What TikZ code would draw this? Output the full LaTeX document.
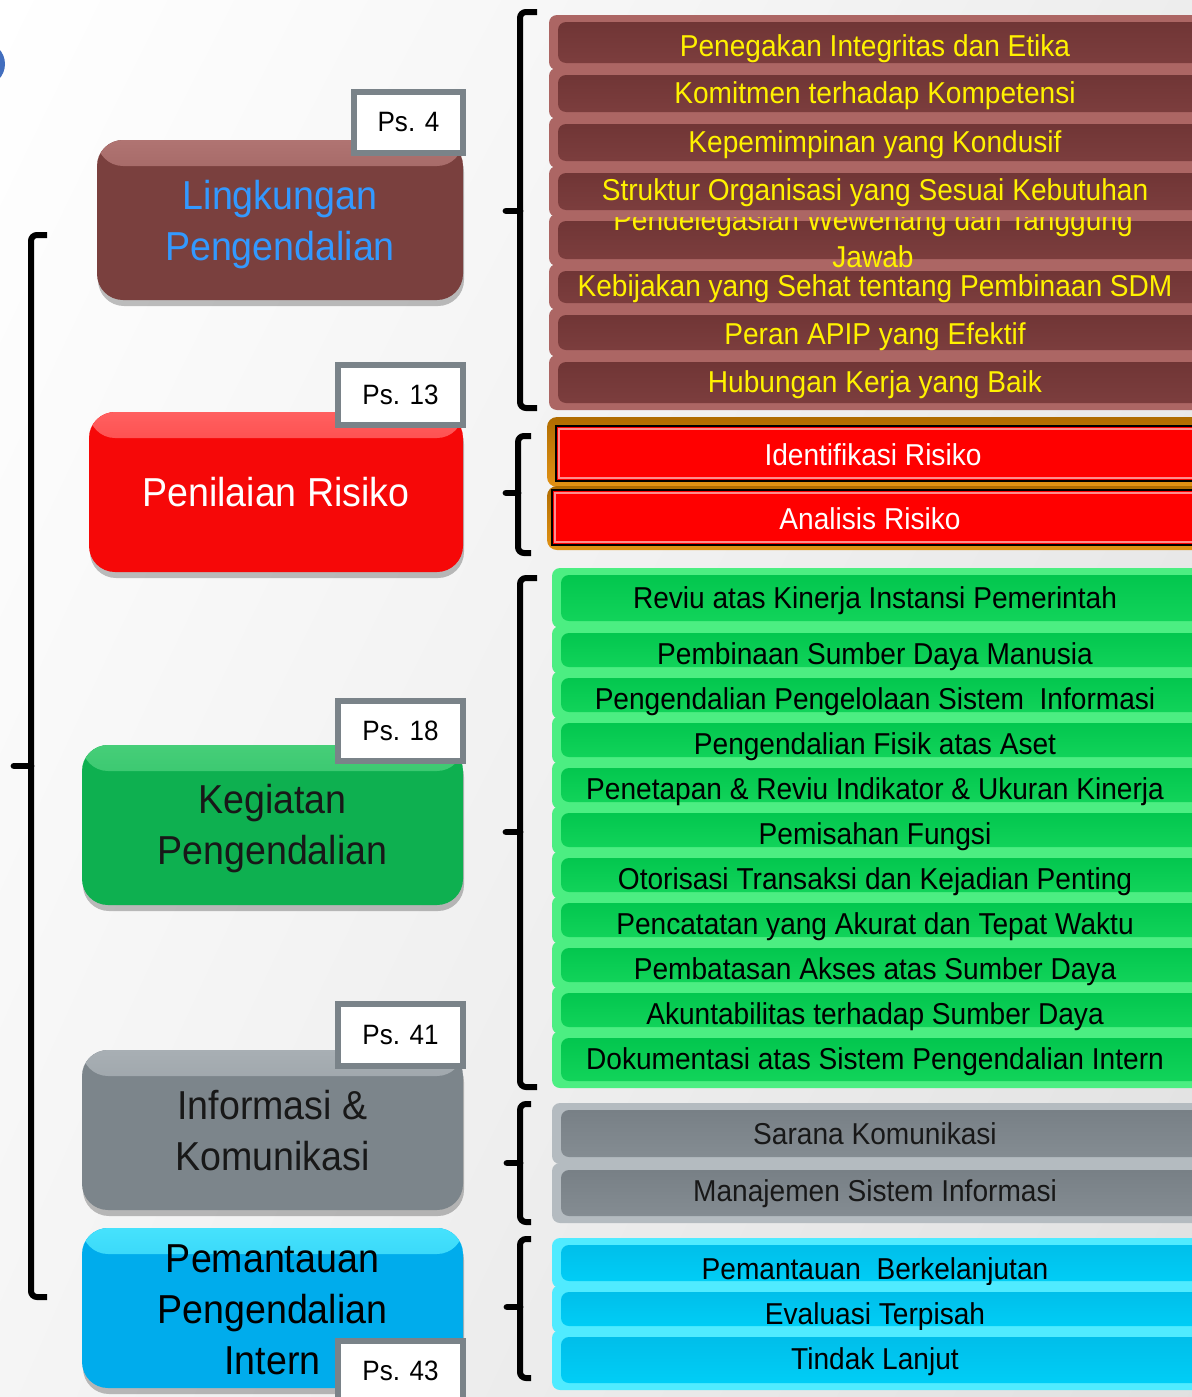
\documentclass[tikz,border=0pt]{standalone}
\usepackage{fontspec}
\setmainfont{Liberation Sans}[FakeStretch=0.93]
\usetikzlibrary{shadows,shadings}
\definecolor{brownL}{RGB}{172,102,100}
\definecolor{brownB}{RGB}{126,63,63}
\definecolor{brownD}{RGB}{110,52,52}
\definecolor{greenL}{RGB}{76,238,130}
\definecolor{greenB}{RGB}{20,214,92}
\definecolor{greenD}{RGB}{0,196,76}
\definecolor{grayL}{RGB}{180,187,192}
\definecolor{grayB}{RGB}{134,142,148}
\definecolor{grayD}{RGB}{118,126,132}
\definecolor{cyanL}{RGB}{80,235,255}
\definecolor{cyanB}{RGB}{0,208,248}
\definecolor{cyanD}{RGB}{0,188,232}
\definecolor{orgA}{RGB}{176,108,0}
\definecolor{orgB}{RGB}{226,146,20}
\definecolor{lingB}{RGB}{122,64,62}
\definecolor{lingL}{RGB}{176,116,114}
\definecolor{lingT}{RGB}{51,153,255}
\definecolor{penB}{RGB}{246,8,8}
\definecolor{penL}{RGB}{255,96,96}
\definecolor{kegB}{RGB}{14,176,80}
\definecolor{kegL}{RGB}{70,206,120}
\definecolor{infB}{RGB}{124,133,139}
\definecolor{infL}{RGB}{168,175,180}
\definecolor{pemB}{RGB}{0,172,236}
\definecolor{pemL}{RGB}{70,226,252}
\definecolor{psgray}{RGB}{122,131,137}
\definecolor{darktxt}{RGB}{24,24,24}
\definecolor{dotblue}{RGB}{66,110,190}
\newcommand\rbx[8]{\path[#5] (#2,#3) rectangle (1212,#4);\node[#7] (#1) at (875,#6) {#8};}
\begin{document}
\begin{tikzpicture}[x=0.5pt,y=-0.5pt,
  bev/.style n args={3}{rounded corners=4pt, fill=#1,
    path picture={\shade[top color=#3, bottom color=#2]
      ([shift={(4.5pt,-3.5pt)}]path picture bounding box.north west) rectangle
      ([shift={(-4.5pt,3.5pt)}]path picture bounding box.south east);}},
  brownbox/.style={bev={brownL}{brownB}{brownD}},
  greenbox/.style={bev={greenL}{greenB}{greenD}},
  graybox/.style={bev={grayL}{grayB}{grayD}},
  cyanbox/.style={bev={cyanL}{cyanB}{cyanD}},
  itemtxt/.style={font=\fontsize{15.1}{18}\selectfont, inner sep=0pt, align=center, yshift=-1.5pt},
  browntxt/.style={itemtxt, text=yellow},
  blacktxt/.style={itemtxt, text=black},
  graytxt/.style={itemtxt, text=darktxt},
  whitetxt/.style={itemtxt, text=white},
  orgframe/.style={rounded corners=5pt, top color=orgA, bottom color=orgB},
  redbar/.style={fill=red, draw=black, line width=1.2pt},
  main/.style 2 args={rounded corners=13pt, fill=#1, minimum height=80pt, inner sep=0pt,
    drop shadow={fill=black, opacity=0.25, shadow xshift=0.5pt, shadow yshift=-3pt},
    path picture={\shade[top color=#2, bottom color=#1]
      (path picture bounding box.north west) rectangle
      ([yshift=-13pt]path picture bounding box.north east);}},
  maintxt/.style={align=center, text=#1, font=\fontsize{20.2}{25.5}\selectfont, inner sep=0pt},
  ps/.style={draw=psgray, line width=3pt, fill=white, inner sep=0pt,
    font=\fontsize{14}{16}\selectfont, text=black},
  brc/.style={line width=3pt, rounded corners=3pt},
  nub/.style={line width=3.4pt, line cap=round},
]
\useasboundingbox (0,0) rectangle (1192,1397);
\shade[upper left=white, upper right=black!7, lower left=black!4, lower right=black!12]
  (0,0) rectangle (1192,1397);
\fill[dotblue] (-17,64) circle (22);

% ---- brown group ----
\rbx{b1}{549}{15}{70}{brownbox}{46}{browntxt}{Penegakan Integritas dan Etika}
\rbx{b2}{549}{68}{119}{brownbox}{93}{browntxt}{Komitmen terhadap Kompetensi}
\rbx{b3}{549}{117}{168}{brownbox}{142}{browntxt}{Kepemimpinan yang Kondusif}
\path[brownbox] (549,214) rectangle (1212,266);
\rbx{b6}{549}{264}{310}{brownbox}{286}{browntxt}{Kebijakan yang Sehat tentang Pembinaan SDM}
\node[browntxt, font=\fontsize{15.1}{18.5}\selectfont] (b5) at (873,235) {Pendelegasian Wewenang dan Tanggung\\Jawab};
\rbx{b4}{549}{166}{217}{brownbox}{190}{browntxt}{Struktur Organisasi yang Sesuai Kebutuhan}
\rbx{b7}{549}{308}{357}{brownbox}{334}{browntxt}{Peran APIP yang Efektif}
\rbx{b8}{549}{355}{410}{brownbox}{382}{browntxt}{Hubungan Kerja yang Baik}

% ---- red group ----
\path[orgframe] (547,417) rectangle (1212,487);
\path[redbar] (556,426) rectangle (1212,481);
\draw[red!45!white, line width=0.6pt] (559,429) rectangle (1212,478);
\node[whitetxt] (r1) at (873,452) {Identifikasi Risiko};
\path[orgframe] (547,486) rectangle (1212,550);
\path[redbar] (552,490) rectangle (1212,545);
\draw[red!45!white, line width=0.6pt] (555,493) rectangle (1212,542);
\node[whitetxt] (r2) at (870,516) {Analisis Risiko};

% ---- green group ----
\rbx{g1}{552}{568}{628}{greenbox}{598}{blacktxt}{Reviu atas Kinerja Instansi Pemerintah}
\rbx{g2}{552}{626}{674}{greenbox}{654}{blacktxt}{Pembinaan Sumber Daya Manusia}
\rbx{g3}{552}{671}{719}{greenbox}{699}{blacktxt}{Pengendalian Pengelolaan Sistem\ \ Informasi}
\rbx{g4}{552}{716}{764}{greenbox}{744}{blacktxt}{Pengendalian Fisik atas Aset}
\rbx{g5}{552}{761}{809}{greenbox}{789}{blacktxt}{Penetapan \& Reviu Indikator \& Ukuran Kinerja}
\rbx{g6}{552}{806}{854}{greenbox}{834}{blacktxt}{Pemisahan Fungsi}
\rbx{g7}{552}{851}{899}{greenbox}{879}{blacktxt}{Otorisasi Transaksi dan Kejadian Penting}
\rbx{g8}{552}{896}{944}{greenbox}{924}{blacktxt}{Pencatatan yang Akurat dan Tepat Waktu}
\rbx{g9}{552}{941}{989}{greenbox}{969}{blacktxt}{Pembatasan Akses atas Sumber Daya}
\rbx{g10}{552}{986}{1034}{greenbox}{1014}{blacktxt}{Akuntabilitas terhadap Sumber Daya}
\rbx{g11}{552}{1031}{1088}{greenbox}{1059}{blacktxt}{Dokumentasi atas Sistem Pengendalian Intern}

% ---- gray group ----
\rbx{s1}{552}{1103}{1164}{graybox}{1131}{graytxt}{Sarana Komunikasi}
\rbx{s2}{552}{1163}{1223}{graybox}{1191}{graytxt}{Manajemen Sistem Informasi}

% ---- cyan group ----
\rbx{c1}{552}{1238}{1288}{cyanbox}{1269}{blacktxt}{Pemantauan\ \ Berkelanjutan}
\rbx{c2}{552}{1285}{1333}{cyanbox}{1314}{blacktxt}{Evaluasi Terpisah}
\rbx{c3}{552}{1330}{1390}{cyanbox}{1359}{blacktxt}{Tindak Lanjut}

% ---- braces ----
\draw[brc] (537,12) -- (520,12) -- (520,408) -- (537,408);
\draw[nub] (520,211) -- (506,211);
\draw[brc] (531,436) -- (518,436) -- (518,553) -- (531,553);
\draw[nub] (518,493) -- (506,493);
\draw[brc] (537,578) -- (520,578) -- (520,1087) -- (537,1087);
\draw[nub] (520,832) -- (506,832);
\draw[brc] (531,1104) -- (520,1104) -- (520,1222) -- (531,1222);
\draw[nub] (520,1163) -- (507,1163);
\draw[brc] (531,1239) -- (520,1239) -- (520,1378) -- (531,1378);
\draw[nub] (520,1307) -- (507,1307);
\draw[brc] (47,235) -- (31,235) -- (31,1297) -- (47,1297);
\draw[nub] (31,766) -- (14,766);

% ---- main boxes ----
\node[main={lingB}{lingL}, minimum width=183pt] (ling) at (280,220) {};
\node[maintxt=lingT] (lingt) at (280,225) {Lingkungan\\Pengendalian};
\node[main={penB}{penL}, minimum width=187pt] (pen) at (276,492) {};
\node[maintxt=white] (pent) at (276,492) {Penilaian Risiko};
\node[main={kegB}{kegL}, minimum width=190.5pt] (keg) at (272.5,825) {};
\node[maintxt=darktxt] (kegt) at (272.5,829) {Kegiatan\\Pengendalian};
\node[main={infB}{infL}, minimum width=190.5pt] (inf) at (272.5,1130) {};
\node[maintxt=darktxt] (inft) at (272.5,1131) {Informasi \&\\Komunikasi};
\node[main={pemB}{pemL}, minimum width=190.5pt] (pem) at (272.5,1308) {};
\node[maintxt=black] (pemt) at (272.5,1310) {Pemantauan\\Pengendalian\\Intern};

% ---- Ps. labels ----
\node[ps, minimum width=54.5pt, minimum height=30.5pt] (ps4) at (408.5,122.5) {Ps. 4};
\node[ps, minimum width=62.5pt, minimum height=30pt] (ps13) at (400.5,395) {Ps. 13};
\node[ps, minimum width=62.5pt, minimum height=30pt] (ps18) at (400.5,731) {Ps. 18};
\node[ps, minimum width=62.5pt, minimum height=31pt] (ps41) at (400.5,1035) {Ps. 41};
\node[ps, minimum width=62.5pt, minimum height=30pt] (ps43) at (400.5,1371) {Ps. 43};
\end{tikzpicture}
\end{document}
